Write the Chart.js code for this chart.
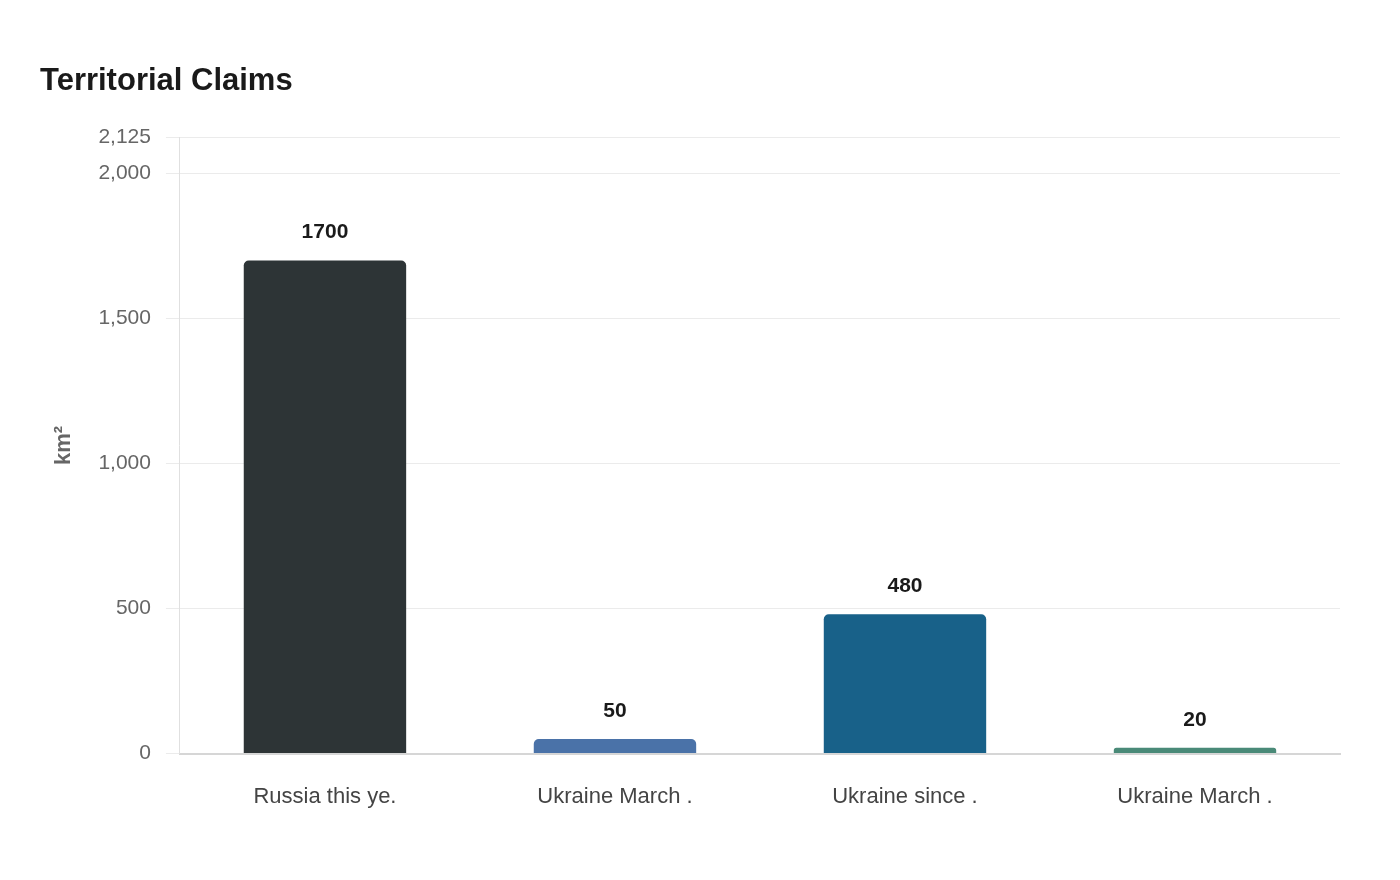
<!DOCTYPE html>
<html>
<head>
<meta charset="utf-8">
<script src="https://cdn.jsdelivr.net/npm/chart.js@4.4.1/dist/chart.umd.min.js"></script>
<style>
  html, body { margin: 0; padding: 0; background: #fff; }
  #wrap { width: 1400px; height: 880px; }
</style>
</head>
<body>
<div id="wrap"><canvas id="chart" width="1400" height="880"></canvas></div>
<script>
// ================= DATA =================
const categories = ["Russia this ye.", "Ukraine March .", "Ukraine since .", "Ukraine March ."];
const claimValues = [1700, 50, 480, 20];
const barColors = ["#2d3436", "#4a72a8", "#186189", "#4a8a78"];
const yTicks = [0, 500, 1000, 1500, 2000, 2125];

const FONT = "'Liberation Sans', Arial, sans-serif";

// ================= VALUE LABELS =================
const valueLabels = {
    id: "valueLabels",
    afterDatasetsDraw(chart) {
        const ctx = chart.ctx;
        const meta = chart.getDatasetMeta(0);
        ctx.save();
        ctx.font = "bold 21px " + FONT;
        ctx.fillStyle = "#1a1a1a";
        ctx.textAlign = "center";
        ctx.textBaseline = "middle";
        meta.data.forEach((bar, i) => {
            ctx.fillText(String(claimValues[i]), bar.x, bar.y - 28);
        });
        ctx.restore();
    }
};

// ================= CHART =================
new Chart(document.getElementById("chart"), {
    type: "bar",
    data: {
        labels: categories,
        datasets: [{
            data: claimValues,
            backgroundColor: barColors,
            borderRadius: { topLeft: 5, topRight: 5 },
            borderSkipped: "bottom",
            categoryPercentage: 0.8,
            barPercentage: 0.7
        }]
    },
    options: {
        responsive: false,
        animation: false,
        devicePixelRatio: 1,
        layout: { padding: { left: 40, right: 60, top: 63, bottom: 40 } },
        plugins: {
            legend: { display: false },
            tooltip: { enabled: false },
            title: {
                display: true,
                text: "Territorial Claims",
                align: "start",
                color: "#1a1a1a",
                font: { family: FONT, size: 31, weight: "bold" },
                padding: { top: 0, bottom: 37 }
            }
        },
        scales: {
            x: {
                grid: { display: false, drawTicks: false },
                border: { color: "#d6d6d6", width: 2 },
                ticks: {
                    color: "#444",
                    padding: 30,
                    font: { family: FONT, size: 22 }
                }
            },
            y: {
                min: 0,
                max: 2125,
                afterBuildTicks(axis) {
                    axis.ticks = yTicks.map(v => ({ value: v }));
                },
                grid: { color: "#ebebeb", tickLength: 14 },
                border: { color: "#e0e0e0" },
                ticks: {
                    color: "#666",
                    padding: 15,
                    font: { family: FONT, size: 21 },
                    callback: v => v.toLocaleString("en-US")
                },
                title: {
                    display: true,
                    text: "km²",
                    color: "#666",
                    font: { family: FONT, size: 22, weight: "bold" },
                    padding: { top: 11, bottom: 6 }
                }
            }
        }
    },
    plugins: [valueLabels]
});
</script>
</body>
</html>
